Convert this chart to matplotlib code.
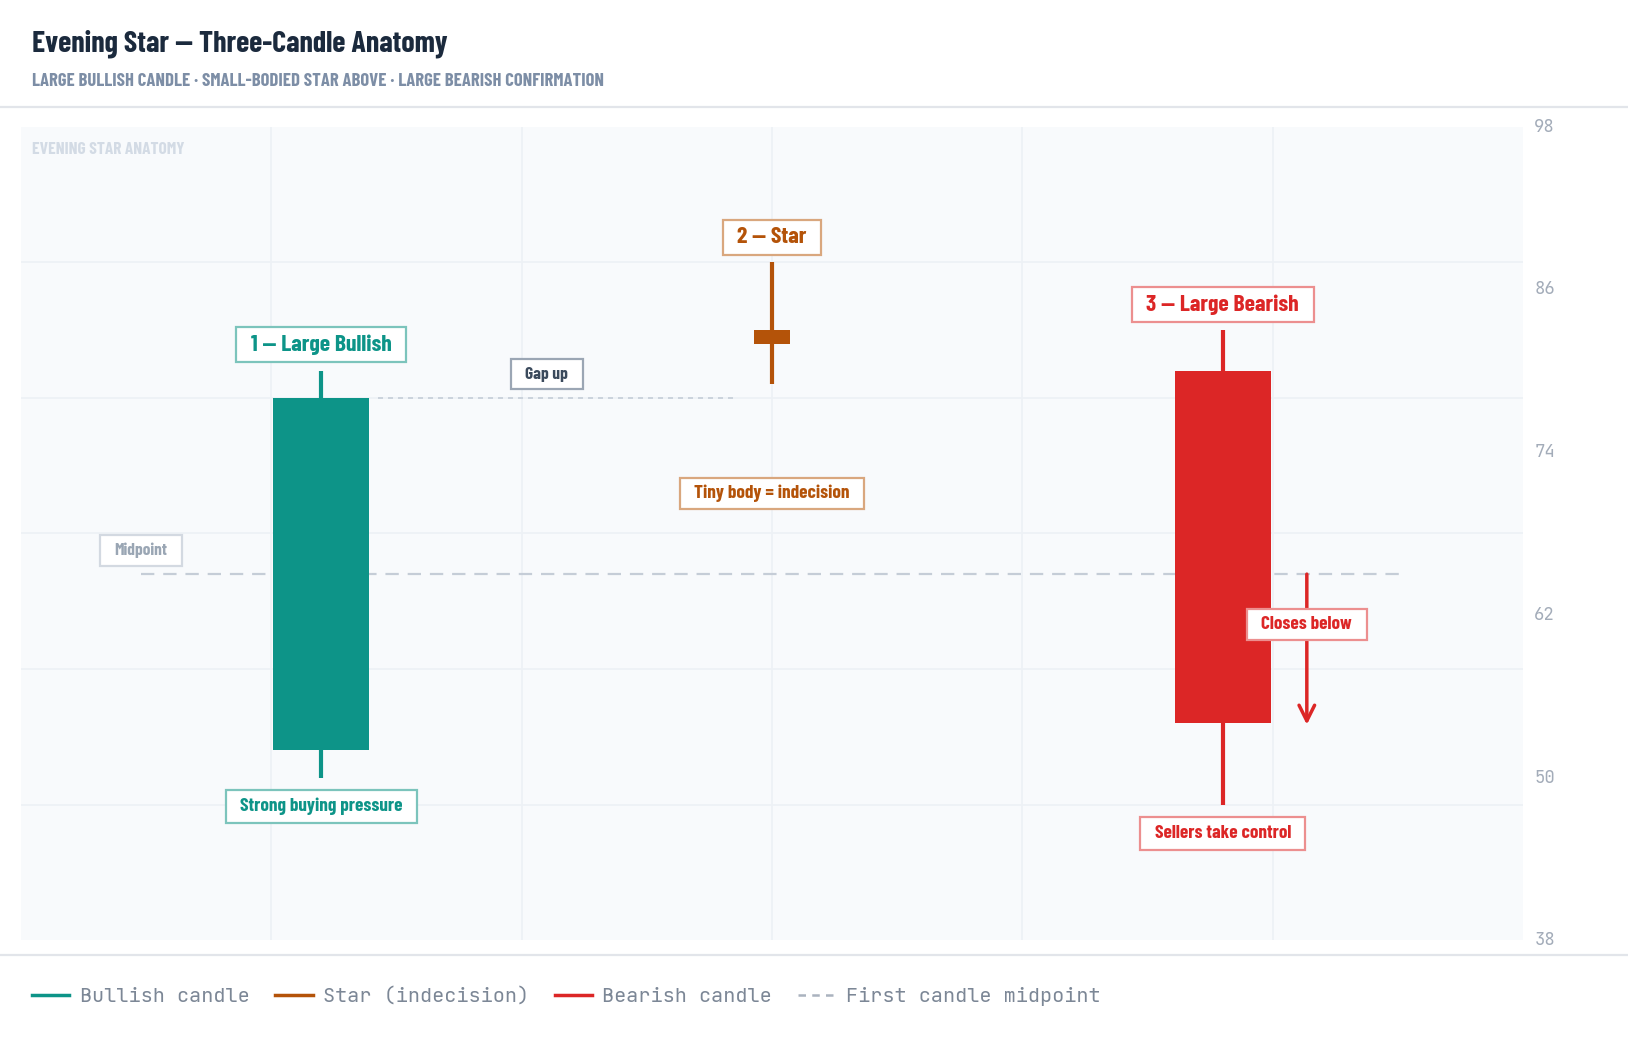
import matplotlib
matplotlib.use("Agg")
import matplotlib.pyplot as plt
from matplotlib.lines import Line2D
from matplotlib.patches import Rectangle

# ---------------- data ----------------
candle_names = ["Large Bullish", "Star", "Large Bearish"]
candle_x = [2.0, 5.0, 8.0]
opens = [52, 82, 80]
highs = [80, 88, 83]
lows = [50, 79, 48]
closes = [78, 83, 54]
body_widths = [0.64, 0.24, 0.64]

midpoint = (opens[0] + closes[0]) / 2.0          # first candle midpoint = 65
y_ticks = [38, 50, 62, 74, 86, 98]
grid_y = [48, 58, 68, 78, 88]
grid_x = [10 / 6 * i for i in range(1, 6)]

legend_labels = ["Bullish candle", "Star (indecision)", "Bearish candle", "First candle midpoint"]

# ---------------- style ----------------
TEAL = "#0d9488"
BROWN = "#b45309"
RED = "#dc2626"
TITLE_C = "#1b2a3d"
SUB_C = "#7d8ea6"
TICK_C = "#a3acb9"
BG = "#f8fafc"
GRID_C = "#edf1f5"
SEP_C = "#e2e5ea"
LEG_C = "#7c8796"
MID_C = "#c5cdd7"
candle_colors = [TEAL, BROWN, RED]

COND = "Barlow Condensed"
MONO = ["JetBrains Mono", "Roboto Mono", "DejaVu Sans Mono"]

fig = plt.figure(figsize=(16.28, 10.42), dpi=100)
fig.patch.set_facecolor("white")

ax = fig.add_axes([0.0128, 0.0976, 0.9228, 0.7809])
ax.set_facecolor(BG)
ax.set_xlim(0, 10)
ax.set_ylim(38, 98)
for s in ax.spines.values():
    s.set_visible(False)
ax.set_xticks([])
ax.yaxis.tick_right()
ax.set_yticks(y_ticks)
ax.set_yticklabels([str(v) for v in y_ticks])
ax.tick_params(axis="y", length=0, pad=8, labelcolor=TICK_C, labelsize=12.5)
for lab in ax.get_yticklabels():
    lab.set_family(MONO)
    lab.set_verticalalignment("center")

for gy in grid_y:
    ax.axhline(gy, color=GRID_C, lw=1.2, zorder=0)
for gx in grid_x:
    ax.axvline(gx, color=GRID_C, lw=1.2, zorder=0)

# watermark
ax.text(0.0076, 0.972, "EVENING STAR ANATOMY", transform=ax.transAxes, ha="left", va="center",
        family=COND, weight="bold", fontsize=12.5, color="#d3dbe5")

# midpoint dashed line
ax.plot([0.8, 9.2], [midpoint, midpoint], color=MID_C, lw=1.6, ls=(0, (6, 4)), zorder=1)
# gap line at first close
ax.plot([2.38, 4.75], [closes[0], closes[0]], color=MID_C, lw=1.2, ls=(0, (3, 3)), zorder=1)

# candles
for x, o, h, l, c, w, col in zip(candle_x, opens, highs, lows, closes, body_widths, candle_colors):
    ax.vlines(x, l, h, color=col, lw=3, zorder=2)
    ax.bar(x, abs(c - o), bottom=min(o, c), width=w, color=col, zorder=3, linewidth=0)

# arrow "closes below"
ax.annotate("", xy=(8.56, closes[2] - 0.1), xytext=(8.56, midpoint),
            arrowprops=dict(arrowstyle="->", color=RED, lw=2.5, mutation_scale=28,
                            shrinkA=0, shrinkB=0), zorder=4)

boxed = []


def label(x, y, text, color, edge, size, box_h, weight="bold"):
    t = ax.text(x, y, text, ha="center", va="center", family=COND, weight=weight,
                fontsize=size, color=color, zorder=6)
    boxed.append((t, edge, box_h))


label(2.0, 81.95, "1 — Large Bullish", TEAL, "#7cc4bc", 17, 35)
label(2.0, 47.9, "Strong buying pressure", TEAL, "#7cc4bc", 13.8, 33)
label(3.5, 79.75, "Gap up", "#3b4a5c", "#9ba6b4", 12.5, 30)
label(0.8, 66.75, "Midpoint", "#9aa6b4", "#d3d9e1", 12.5, 31)
label(5.0, 89.85, "2 — Star", BROWN, "#d9a77e", 17, 35)
label(5.0, 70.95, "Tiny body = indecision", BROWN, "#d9a77e", 13.8, 31)
label(8.0, 84.85, "3 — Large Bearish", RED, "#ec8f8f", 17, 35)
label(8.56, 61.3, "Closes below", RED, "#ec8f8f", 13.8, 31)
label(8.0, 45.85, "Sellers take control", RED, "#ec8f8f", 13.8, 33)

# header
fig.text(0.0198, 0.958, "Evening Star — Three-Candle Anatomy", ha="left", va="center",
         family=COND, weight="bold", fontsize=21.6, color=TITLE_C)
fig.text(0.0198, 0.922, "LARGE BULLISH CANDLE · SMALL-BODIED STAR ABOVE · LARGE BEARISH CONFIRMATION",
         ha="left", va="center", family=COND, weight="bold", fontsize=13.4, color=SUB_C)
fig.add_artist(Line2D([0, 1], [0.897, 0.897], transform=fig.transFigure, color=SEP_C, lw=1.6))
fig.add_artist(Line2D([0, 1], [0.0837, 0.0837], transform=fig.transFigure, color=SEP_C, lw=1.6))

# legend
handles = [
    Line2D([], [], color=TEAL, lw=2.5),
    Line2D([], [], color=BROWN, lw=2.5),
    Line2D([], [], color=RED, lw=2.5),
    Line2D([], [], color="#aab3bf", lw=1.8, ls=(0, (3, 2.5))),
]
leg = fig.legend(handles, legend_labels, loc="center left", bbox_to_anchor=(0.0198, 0.0438),
                 ncol=4, frameon=False, handlelength=1.85, handletextpad=0.5, columnspacing=1.3,
                 borderpad=0, borderaxespad=0, prop=dict(family=MONO, size=14.5))
for t in leg.get_texts():
    t.set_color(LEG_C)

# label boxes sized from the rendered text
fig.canvas.draw()
renderer = fig.canvas.get_renderer()
inv = ax.transAxes.inverted()
PADX = 14.5
for t, edge, box_h in boxed:
    bb = t.get_window_extent(renderer)
    cx, cy = (bb.x0 + bb.x1) / 2, (bb.y0 + bb.y1) / 2
    w = bb.width + 2 * PADX
    (x0, y0) = inv.transform((cx - w / 2, cy - box_h / 2))
    (x1, y1) = inv.transform((cx + w / 2, cy + box_h / 2))
    ax.add_patch(Rectangle((x0, y0), x1 - x0, y1 - y0, transform=ax.transAxes,
                           facecolor="white", edgecolor=edge, lw=1.6, zorder=5))

fig.savefig("out.png", dpi=100, facecolor="white")
